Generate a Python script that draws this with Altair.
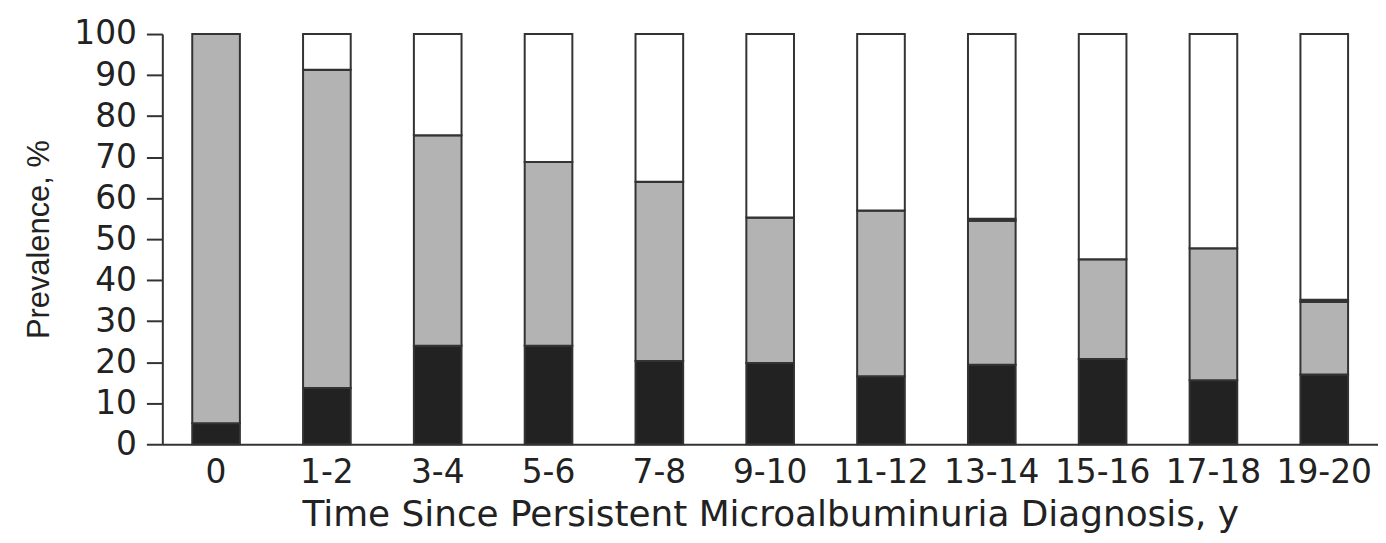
import altair as alt
import pandas as pd

categories = ["0", "1-2", "3-4", "5-6", "7-8", "9-10", "11-12", "13-14", "15-16", "17-18", "19-20"]
black_vals = [5.1, 13.7, 24.0, 24.0, 20.3, 19.8, 16.6, 19.4, 20.8, 15.6, 17.0]
gray_top = [100.0, 91.3, 75.3, 68.8, 64.0, 55.3, 57.0, 54.5, 45.1, 47.8, 34.7]
thin_vals = [0, 0, 0, 0, 0, 0, 0, 0.5, 0, 0, 0.5]

rows = []
for i, c in enumerate(categories):
    b = black_vals[i]
    g = gray_top[i] - b
    t = thin_vals[i]
    w = 100.0 - gray_top[i] - t
    rows.append({"cat": c, "grp": "A", "val": b, "ord": 0})
    rows.append({"cat": c, "grp": "B", "val": g, "ord": 1})
    rows.append({"cat": c, "grp": "C", "val": t, "ord": 2})
    rows.append({"cat": c, "grp": "D", "val": w, "ord": 3})
df = pd.DataFrame(rows)

chart = alt.Chart(df).mark_bar(stroke="#333333", strokeWidth=2).encode(
    x=alt.X("cat:N", sort=categories,
            scale=alt.Scale(paddingInner=0.57, paddingOuter=0.27),
            axis=alt.Axis(title="Time Since Persistent Microalbuminuria Diagnosis, y",
                          labelAngle=0, ticks=False, domainColor="#333333", domainWidth=2,
                          labelFont="DejaVu Sans", labelFontSize=33, labelColor="#222222",
                          labelPadding=12, titleFont="DejaVu Sans", titleFontSize=36,
                          titleFontWeight="normal", titleColor="#222222", titlePadding=9)),
    y=alt.Y("val:Q", stack="zero",
            scale=alt.Scale(domain=[0, 100], nice=False),
            axis=alt.Axis(title="Prevalence, %", values=list(range(0, 101, 10)),
                          grid=False, tickSize=16, tickWidth=2, tickColor="#333333",
                          domainColor="#333333", domainWidth=2,
                          labelFont="DejaVu Sans", labelFontSize=33, labelColor="#222222",
                          labelPadding=10, titleFont="Liberation Sans", titleFontSize=31,
                          titleFontWeight="normal", titleColor="#222222", titlePadding=18)),
    color=alt.Color("grp:N", scale=alt.Scale(domain=["A", "B", "C", "D"],
                                             range=["#222222", "#b3b3b3", "#222222", "#ffffff"]),
                    legend=None),
    order=alt.Order("ord:Q"),
).properties(
    width=1221, height=412,
    autosize=alt.AutoSizeParams(type="none"),
    padding={"left": 155, "top": 25, "right": 0, "bottom": 90},
).configure_view(stroke=None)

chart.save("out.html", embed_options={"renderer": "svg", "actions": False})
